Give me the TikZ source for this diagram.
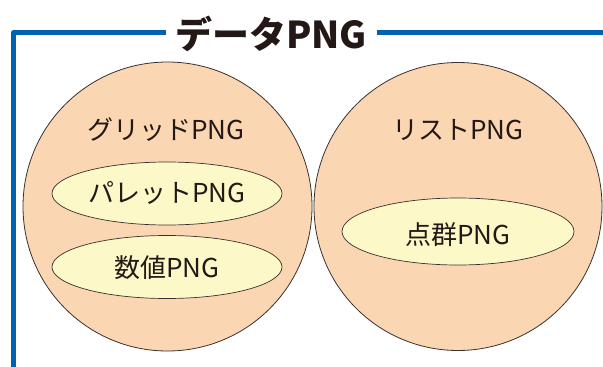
\documentclass[tikz,border=0pt]{standalone}
\usepackage{fontspec}
\setmainfont{Noto Sans CJK JP}
\usetikzlibrary{shapes.geometric}
\definecolor{framblue}{HTML}{0062B1}
\definecolor{peach}{HTML}{FAD6B2}
\definecolor{cream}{HTML}{FDF8C8}
\definecolor{outl}{HTML}{3A3030}
\definecolor{titleblack}{HTML}{231815}
\tikzset{
  bigset/.style={circle, draw=outl, line width=0.8pt, fill=peach, minimum size=#1, inner sep=0pt},
  subset/.style={ellipse, draw=outl, line width=0.7pt, fill=cream, minimum width=#1, inner sep=0pt},
  lbl/.style={font=\fontsize{26}{26}\selectfont, text=titleblack, inner sep=0pt},
  frameline/.style={draw=framblue, line width=4.6pt, line join=round}
}
\begin{document}
\begin{tikzpicture}[x=1pt,y=-1pt]
\useasboundingbox (0,0) rectangle (603,367);
% frame
\coordinate (fl) at (13.5,367);
\coordinate (fc) at (13.5,32.3);
\coordinate (fa) at (166,32.3);
\coordinate (fb) at (377,32.3);
\coordinate (fr) at (603,32.3);
\draw[frameline] (fl) -- (fc) -- (fa);
\draw[frameline] (fb) -- (fr);
\node[font=\bfseries\fontsize{37}{37}\selectfont, text=titleblack, inner sep=0pt] (title) at (271,34) {データPNG};
% sets
\node[bigset=289pt] (grid) at (167.5,206.5) {};
\node[bigset=288pt] (list) at (458,206.5) {};
\node[subset=230pt, minimum height=63pt] (pal) at (167,193.5) {};
\node[subset=230pt, minimum height=63pt] (num) at (167,267) {};
\node[subset=232pt, minimum height=67pt] (pts) at (458,231.5) {};
% labels
\node[lbl] (gridl) at (166,130) {グリッドPNG};
\node[lbl] (listl) at (458,130) {リストPNG};
\node[lbl] (pall) at (167,193) {パレットPNG};
\node[lbl] (numl) at (167,268) {数値PNG};
\node[lbl] (ptsl) at (458,235) {点群PNG};
\end{tikzpicture}
\end{document}
